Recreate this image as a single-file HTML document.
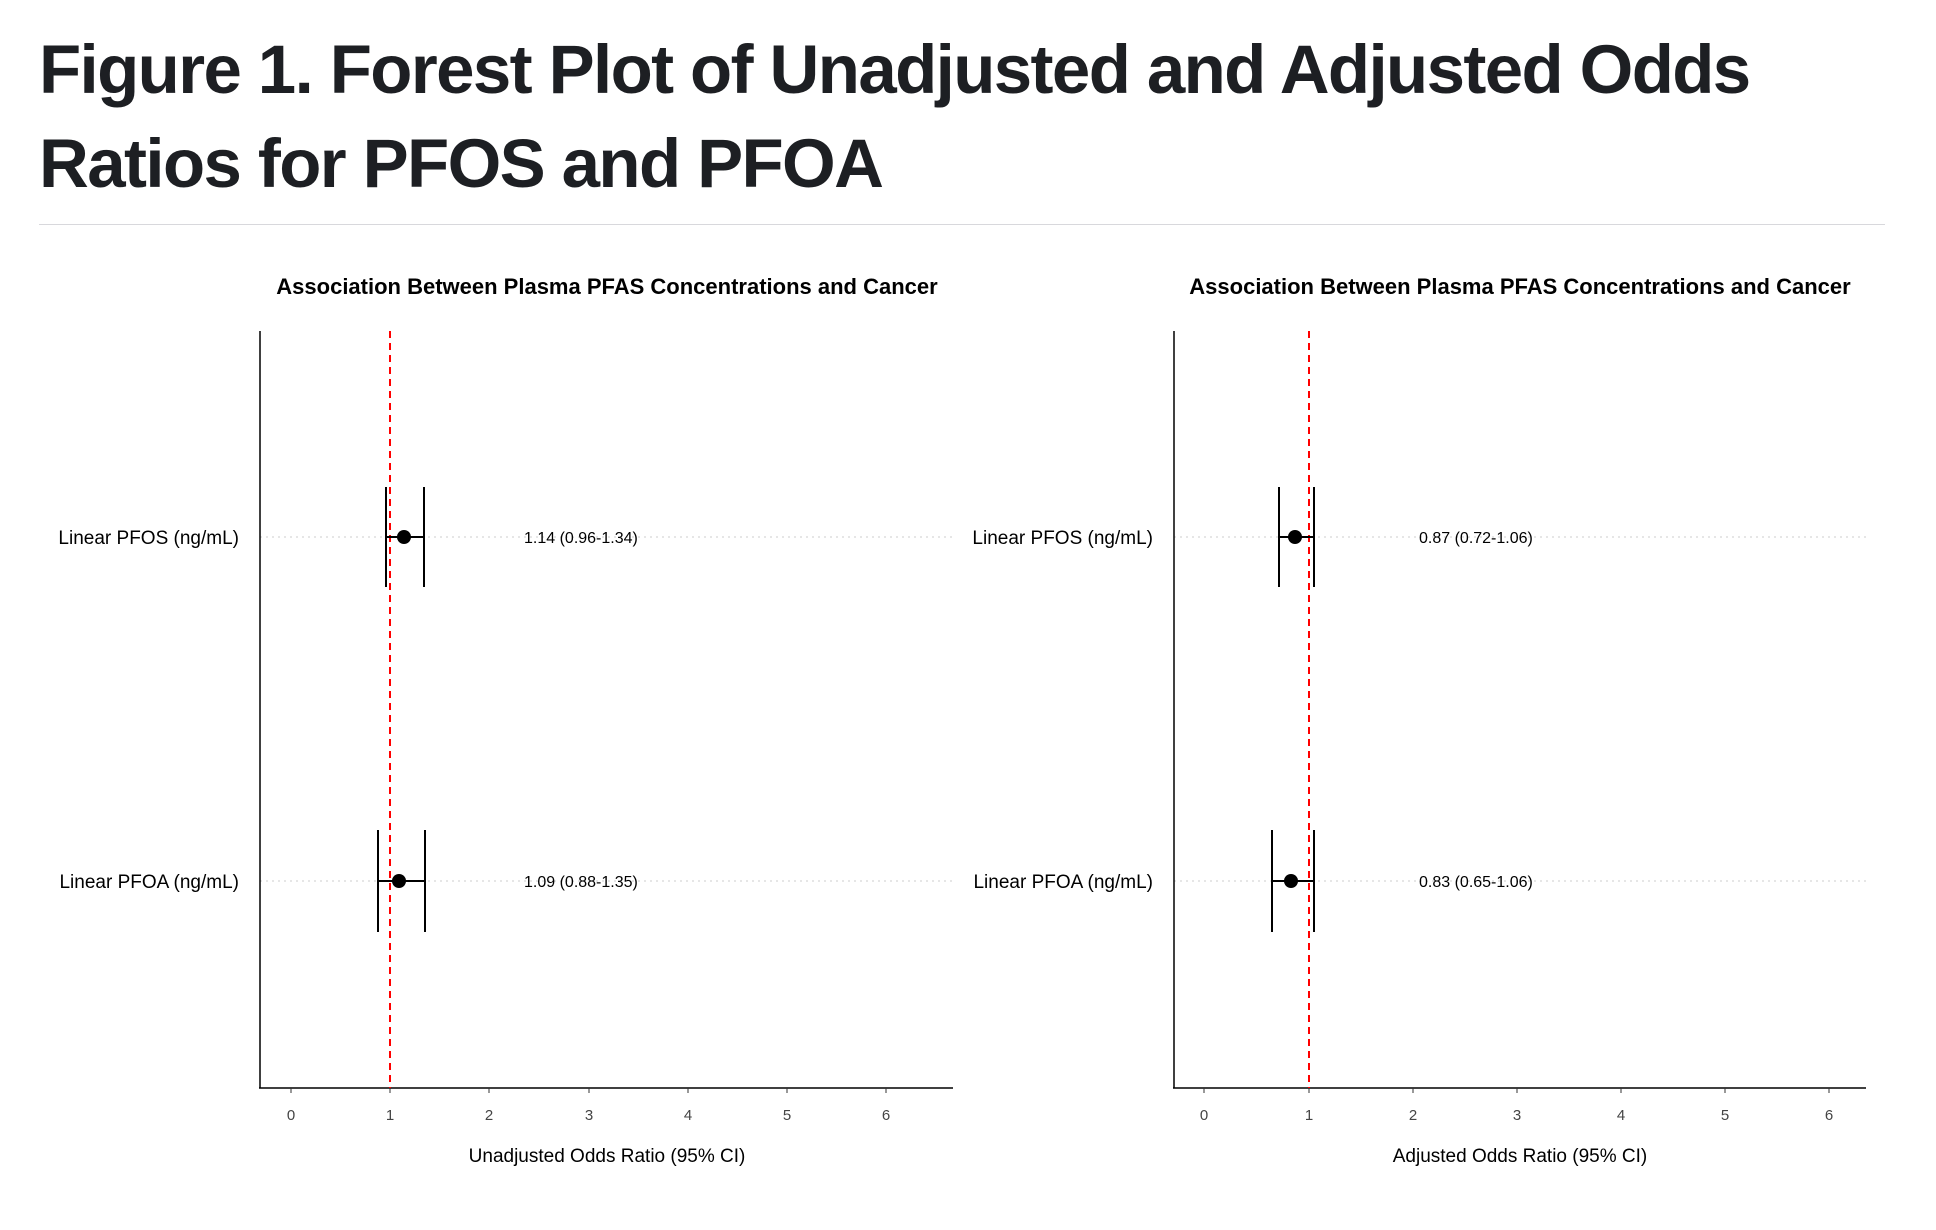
<!DOCTYPE html>
<html><head><meta charset="utf-8"><style>
html,body{margin:0;padding:0;background:#fff;}
body{width:1936px;height:1230px;overflow:hidden;position:relative;font-family:"Liberation Sans",sans-serif;}
h1{position:absolute;left:39px;top:23px;margin:0;font-size:69px;line-height:94px;font-weight:bold;color:#1d1f23;letter-spacing:-1.6px;width:1860px;}
.hr{position:absolute;left:39px;top:224px;width:1846px;height:1px;background:#d8d8dc;}
svg{position:absolute;left:0;top:0;}
</style></head><body>
<h1>Figure 1. Forest Plot of Unadjusted and Adjusted Odds Ratios for PFOS and PFOA</h1>
<div class="hr"></div>
<svg width="1936" height="1230" font-family="Liberation Sans, sans-serif">
<!-- Left panel -->
<text x="607" y="294" text-anchor="middle" font-size="22" font-weight="bold">Association Between Plasma PFAS Concentrations and Cancer</text>
<line x1="260" y1="537" x2="953" y2="537" stroke="#ccc" stroke-dasharray="2,4"/>
<line x1="260" y1="881" x2="953" y2="881" stroke="#ccc" stroke-dasharray="2,4"/>
<line x1="260" y1="331" x2="260" y2="1088" stroke="#000" stroke-width="1.5"/>
<line x1="259" y1="1088" x2="953" y2="1088" stroke="#000" stroke-width="1.5"/>
<g stroke="#333"><line x1="291" y1="1088" x2="291" y2="1093"/><line x1="390" y1="1088" x2="390" y2="1093"/><line x1="489" y1="1088" x2="489" y2="1093"/><line x1="589" y1="1088" x2="589" y2="1093"/><line x1="688" y1="1088" x2="688" y2="1093"/><line x1="787" y1="1088" x2="787" y2="1093"/><line x1="886" y1="1088" x2="886" y2="1093"/></g>
<g font-size="15" fill="#444" text-anchor="middle"><text x="291" y="1120">0</text><text x="390" y="1120">1</text><text x="489" y="1120">2</text><text x="589" y="1120">3</text><text x="688" y="1120">4</text><text x="787" y="1120">5</text><text x="886" y="1120">6</text></g>
<text x="607" y="1162" text-anchor="middle" font-size="19">Unadjusted Odds Ratio (95% CI)</text>
<g font-size="19" text-anchor="end"><text x="239" y="544">Linear PFOS (ng/mL)</text><text x="239" y="888">Linear PFOA (ng/mL)</text></g>
<line x1="390" y1="331" x2="390" y2="1088" stroke="#f00" stroke-width="2" stroke-dasharray="7,5"/>
<g stroke="#000" stroke-width="2">
<line x1="386" y1="537" x2="424" y2="537"/><line x1="386" y1="487" x2="386" y2="587"/><line x1="424" y1="487" x2="424" y2="587"/>
<line x1="378" y1="881" x2="425" y2="881"/><line x1="378" y1="830" x2="378" y2="932"/><line x1="425" y1="830" x2="425" y2="932"/></g>
<circle cx="404" cy="537" r="7"/><circle cx="399" cy="881" r="7"/>
<g font-size="16"><text x="524" y="543">1.14 (0.96-1.34)</text><text x="524" y="887">1.09 (0.88-1.35)</text></g>
<!-- Right panel -->
<text x="1520" y="294" text-anchor="middle" font-size="22" font-weight="bold">Association Between Plasma PFAS Concentrations and Cancer</text>
<line x1="1174" y1="537" x2="1866" y2="537" stroke="#ccc" stroke-dasharray="2,4"/>
<line x1="1174" y1="881" x2="1866" y2="881" stroke="#ccc" stroke-dasharray="2,4"/>
<line x1="1174" y1="331" x2="1174" y2="1088" stroke="#000" stroke-width="1.5"/>
<line x1="1173" y1="1088" x2="1866" y2="1088" stroke="#000" stroke-width="1.5"/>
<g stroke="#333"><line x1="1204" y1="1088" x2="1204" y2="1093"/><line x1="1309" y1="1088" x2="1309" y2="1093"/><line x1="1413" y1="1088" x2="1413" y2="1093"/><line x1="1517" y1="1088" x2="1517" y2="1093"/><line x1="1621" y1="1088" x2="1621" y2="1093"/><line x1="1725" y1="1088" x2="1725" y2="1093"/><line x1="1829" y1="1088" x2="1829" y2="1093"/></g>
<g font-size="15" fill="#444" text-anchor="middle"><text x="1204" y="1120">0</text><text x="1309" y="1120">1</text><text x="1413" y="1120">2</text><text x="1517" y="1120">3</text><text x="1621" y="1120">4</text><text x="1725" y="1120">5</text><text x="1829" y="1120">6</text></g>
<text x="1520" y="1162" text-anchor="middle" font-size="19">Adjusted Odds Ratio (95% CI)</text>
<g font-size="19" text-anchor="end"><text x="1153" y="544">Linear PFOS (ng/mL)</text><text x="1153" y="888">Linear PFOA (ng/mL)</text></g>
<line x1="1309" y1="331" x2="1309" y2="1088" stroke="#f00" stroke-width="2" stroke-dasharray="7,5"/>
<g stroke="#000" stroke-width="2">
<line x1="1279" y1="537" x2="1314" y2="537"/><line x1="1279" y1="487" x2="1279" y2="587"/><line x1="1314" y1="487" x2="1314" y2="587"/>
<line x1="1272" y1="881" x2="1314" y2="881"/><line x1="1272" y1="830" x2="1272" y2="932"/><line x1="1314" y1="830" x2="1314" y2="932"/></g>
<circle cx="1295" cy="537" r="7"/><circle cx="1291" cy="881" r="7"/>
<g font-size="16"><text x="1419" y="543">0.87 (0.72-1.06)</text><text x="1419" y="887">0.83 (0.65-1.06)</text></g>
</svg>
</body></html>
